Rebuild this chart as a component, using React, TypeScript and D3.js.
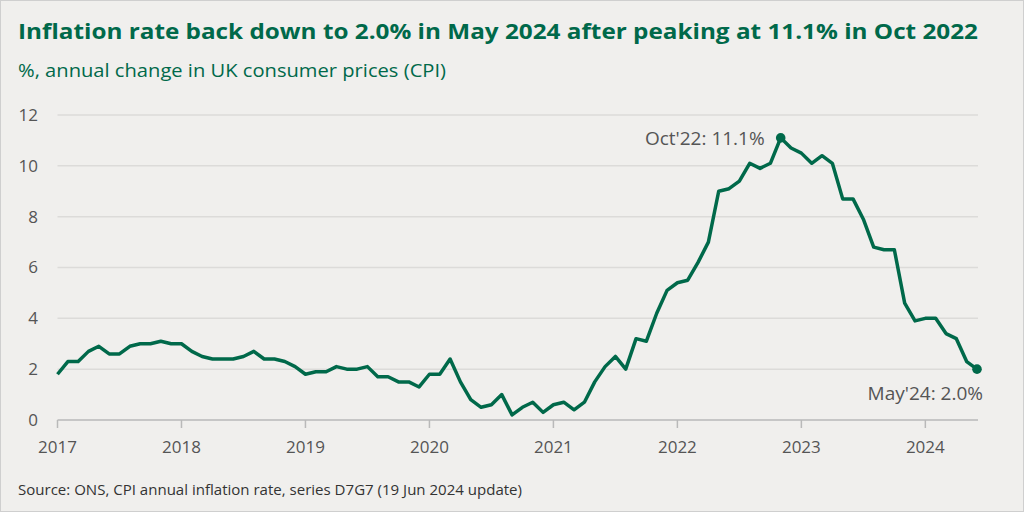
import React from "react";
import * as d3 from "d3";

// CPI annual rate, monthly from Jan 2017 (as plotted, one point per step)
const values = [
  1.8, 2.3, 2.3, 2.7, 2.9, 2.6, 2.6, 2.9, 3.0, 3.0, 3.1, 3.0,
  3.0, 2.7, 2.5, 2.4, 2.4, 2.4, 2.5, 2.7, 2.4, 2.4, 2.3, 2.1,
  1.8, 1.9, 1.9, 2.1, 2.0, 2.0, 2.1, 1.7, 1.7, 1.5, 1.5, 1.3,
  1.8, 1.8, 2.4, 1.5, 0.8, 0.5, 0.6, 1.0, 0.2, 0.5, 0.7, 0.3, 0.6,
  0.7, 0.4, 0.7, 1.5, 2.1, 2.5, 2.0, 3.2, 3.1, 4.2, 5.1, 5.4,
  5.5, 6.2, 7.0, 9.0, 9.1, 9.4, 10.1, 9.9, 10.1, 11.1, 10.7, 10.5,
  10.1, 10.4, 10.1, 8.7, 8.7, 7.9, 6.8, 6.7, 6.7, 4.6, 3.9, 4.0,
  4.0, 3.4, 3.2, 2.3, 2.0,
];

const yearLabels = ["2017", "2018", "2019", "2020", "2021", "2022", "2023", "2024"];
const yTicks = [0, 2, 4, 6, 8, 10, 12];

const annotations = [
  { index: 70, label: "Oct'22: 11.1%" },
  { index: values.length - 1, label: "May'24: 2.0%" },
];

const GREEN = "#00694a";
const GREY_TEXT = "#555555";

export default function App() {
  const width = 1024;
  const height = 512;
  const left = 57.5;
  const right = 977;

  const x = d3.scaleLinear().domain([0, values.length - 1]).range([left, right]);
  const y = d3.scaleLinear().domain([0, 12]).range([420, 115]);

  const line = d3
    .line<number>()
    .x((_, i) => x(i))
    .y((d) => y(d));

  const peak = annotations[0];
  const last = annotations[1];

  return (
    <svg
      width={width}
      height={height}
      style={{ position: "absolute", left: 0, top: 0 }}
      fontFamily="'Open Sans', sans-serif"
    >
      <rect x={0.5} y={0.5} width={width - 1} height={height - 1} fill="#f0efed" stroke="#cfcfcf" />

      <text
        x={18}
        y={39}
        fill={GREEN}
        fontSize={22}
        fontWeight={700}
        textLength={960}
        lengthAdjust="spacingAndGlyphs"
      >
        Inflation rate back down to 2.0% in May 2024 after peaking at 11.1% in Oct 2022
      </text>
      <text x={18} y={77} fill={GREEN} fontSize={17.5} textLength={428} lengthAdjust="spacingAndGlyphs">
        %, annual change in UK consumer prices (CPI)
      </text>

      {yTicks.map((t) => (
        <g key={t}>
          {t > 0 && <line x1={left} x2={right + 1} y1={y(t)} y2={y(t)} stroke="#dcdbd9" strokeWidth={1.5} />}
          <text x={38} y={y(t)} dy="0.35em" textAnchor="end" fontSize={17} fill={GREY_TEXT}>
            {t}
          </text>
        </g>
      ))}

      <line x1={left} x2={right + 1} y1={y(0)} y2={y(0)} stroke="#b9b9b9" strokeWidth={1.5} />
      {yearLabels.map((label, i) => (
        <g key={label}>
          <line x1={x(i * 12)} x2={x(i * 12)} y1={y(0)} y2={y(0) + 8} stroke="#b9b9b9" strokeWidth={1.5} />
          <text x={x(i * 12)} y={453} textAnchor="middle" fontSize={17} fill={GREY_TEXT}>
            {label}
          </text>
        </g>
      ))}

      <path d={line(values) ?? ""} fill="none" stroke={GREEN} strokeWidth={3.5} strokeLinejoin="round" />

      {annotations.map((a) => (
        <circle key={a.label} cx={x(a.index)} cy={y(values[a.index])} r={4.8} fill={GREEN} />
      ))}
      <text x={x(peak.index) - 16} y={y(values[peak.index]) + 7} textAnchor="end" fontSize={19} fill={GREY_TEXT}>
        {peak.label}
      </text>
      <text x={x(last.index) + 6} y={y(values[last.index]) + 31} textAnchor="end" fontSize={19} fill={GREY_TEXT}>
        {last.label}
      </text>

      <text x={18} y={495} fontSize={14} fill="#333333" textLength={504} lengthAdjust="spacingAndGlyphs">
        Source: ONS, CPI annual inflation rate, series D7G7 (19 Jun 2024 update)
      </text>
    </svg>
  );
}
